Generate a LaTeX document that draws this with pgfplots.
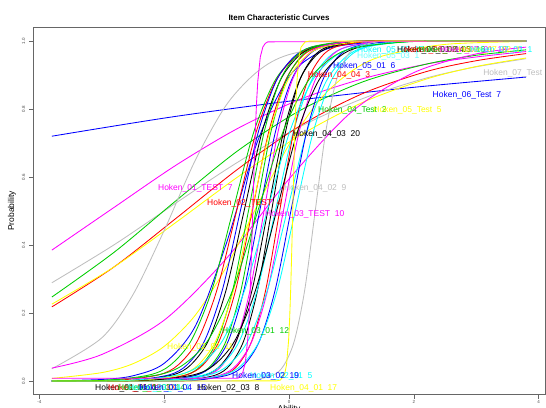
\documentclass[border=0pt]{standalone}
\usepackage{pgfplots}
\pgfplotsset{compat=1.18}
\usepackage{pgfplotstable}
\usepackage{fontspec}
\setmainfont{Liberation Sans}
\definecolor{Rgreen}{RGB}{0,205,0}
\definecolor{Rgray}{RGB}{190,190,190}
\definecolor{Rcyan}{RGB}{0,255,255}
\definecolor{Rmag}{RGB}{255,0,255}
\definecolor{Ryel}{RGB}{255,255,0}
\definecolor{Rred}{RGB}{255,0,0}
\definecolor{Rblue}{RGB}{0,0,255}
\newcommand\lab{\fontsize{8.5}{9}\selectfont}
\pgfplotstableread{
P S1 S2 S3 S4 S5 S6 S7 S8 S9 S10 S11 S12 S13 S14 S15 S16 S17 S20 S21 S22 S23 S24
0 -3.8 -3.8 -3.8 -3.8 -3.8 -3.8 -3.8 -3.8 -3.8 -3.8 -3.8 -3.8 -3.8 -3.8 -3.8 -3.8 -3.8 -3.8 -3.8 -3.8 -3.8 -3.8
0.0003 -3.567 -3.34 -3.066 -3.006 -2.65 -2.695 -2.435 -2.47 -2.178 -2.34 -2.058 -2.506 -1.928 -2.09 -2.53 -1.97 -2.186 -0.913 -2.886 -2.867 -3.207 -3.7
0.0025 -2.9 -2.715 -2.494 -2.434 -2.15 -2.169 -1.959 -1.97 -1.733 -1.84 -1.613 -1.934 -1.483 -1.59 -1.905 -1.47 -1.614 -0.58 -2.314 -2.2 -2.493 -2.9
0.018 -2.233 -2.09 -1.923 -1.863 -1.65 -1.643 -1.482 -1.47 -1.289 -1.34 -1.169 -1.363 -1.039 -1.09 -1.28 -0.97 -1.043 -0.247 -1.743 -1.533 -1.779 -2.1
0.047 -1.9 -1.778 -1.637 -1.577 -1.4 -1.379 -1.244 -1.22 -1.067 -1.09 -0.947 -1.077 -0.817 -0.84 -0.968 -0.72 -0.757 -0.08 -1.457 -1.2 -1.421 -1.7
0.119 -1.567 -1.465 -1.351 -1.291 -1.15 -1.116 -1.006 -0.97 -0.844 -0.84 -0.724 -0.791 -0.594 -0.59 -0.655 -0.47 -0.471 0.087 -1.171 -0.867 -1.064 -1.3
0.269 -1.233 -1.153 -1.066 -1.006 -0.9 -0.853 -0.768 -0.72 -0.622 -0.59 -0.502 -0.506 -0.372 -0.34 -0.343 -0.22 -0.186 0.253 -0.886 -0.533 -0.707 -0.9
0.5 -0.9 -0.84 -0.78 -0.72 -0.65 -0.59 -0.53 -0.47 -0.4 -0.34 -0.28 -0.22 -0.15 -0.09 -0.03 0.03 0.1 0.42 -0.6 -0.2 -0.35 -0.5
0.731 -0.567 -0.528 -0.494 -0.434 -0.4 -0.327 -0.292 -0.22 -0.178 -0.09 -0.058 0.066 0.072 0.16 0.283 0.28 0.386 0.587 -0.314 0.133 0.007 -0.1
0.881 -0.233 -0.215 -0.209 -0.149 -0.15 -0.064 -0.054 0.03 0.044 0.16 0.164 0.351 0.294 0.41 0.595 0.53 0.671 0.753 -0.029 0.467 0.364 0.3
0.953 0.1 0.098 0.077 0.137 0.1 0.199 0.184 0.28 0.267 0.41 0.387 0.637 0.517 0.66 0.908 0.78 0.957 0.92 0.257 0.8 0.721 0.7
0.982 0.433 0.41 0.363 0.423 0.35 0.463 0.422 0.53 0.489 0.66 0.609 0.923 0.739 0.91 1.22 1.03 1.243 1.087 0.543 1.133 1.079 1.1
0.9975 1.1 1.035 0.934 0.994 0.85 0.989 0.899 1.03 0.933 1.16 1.053 1.494 1.183 1.41 1.845 1.53 1.814 1.42 1.114 1.8 1.793 1.9
0.9997 1.767 1.66 1.506 1.566 1.35 1.515 1.375 1.53 1.378 1.66 1.498 2.066 1.628 1.91 2.47 2.03 2.386 1.753 1.686 2.467 2.507 2.7
1 3.8 3.8 3.8 3.8 3.8 3.8 3.8 3.8 3.8 3.8 3.8 3.8 3.8 3.8 3.8 3.8 3.8 3.8 3.8 3.8 3.8 3.8
}\steep
\begin{document}
\begin{tikzpicture}[x=1bp,y=1bp]
\useasboundingbox (0,0) rectangle (546,407);
\begin{axis}[at={(32.9bp,12.4bp)}, anchor=south west, scale only axis,
  width=512.2bp, height=367.2bp,
  xmin=-4.104, xmax=4.104, ymin=-0.04, ymax=1.04,
  clip mode=individual,
  xtick={-4,-2,0,2,4}, xticklabels={-4,-2,0,2,4},
  ytick={0,0.2,0.4,0.6,0.8,1}, yticklabels={0.0,0.2,0.4,0.6,0.8,1.0},
  tick pos=left, tick align=outside, major tick length=4bp,
  axis line style={black!60, line width=0.6bp},
  tick style={black!60, line width=0.5bp},
  xticklabel style={font=\fontsize{4.5}{5}\selectfont, inner sep=1.5bp, text=black!70},
  yticklabel style={rotate=90, anchor=south, font=\fontsize{4.5}{5}\selectfont, inner sep=3.5bp, text=black!70},
  every axis plot/.append style={line width=0.85bp},
]
% low-slope items
\addplot[smooth, Rblue] coordinates {(-3.8,0.72) (-1.9,0.776) (0,0.823) (1.9,0.862) (3.8,0.894)};
\addplot[smooth, Rmag] coordinates {(-3.8,0.385) (-2.8,0.511) (-1.8,0.636) (-0.8,0.745) (0.2,0.830) (1.2,0.890) (2.2,0.932) (3.0,0.953) (3.8,0.969)};
\addplot[smooth, Rgray] coordinates {(-3.8,0.289) (-2.8,0.401) (-1.8,0.525) (-0.8,0.646) (0.2,0.750) (1.2,0.832) (2.2,0.891) (3.0,0.924) (3.8,0.948)};
\addplot[smooth, Rgreen] coordinates {(-3.8,0.247) (-2.8,0.379) (-1.8,0.532) (-0.8,0.680) (0.2,0.798) (1.2,0.881) (2.2,0.932) (3.0,0.958) (3.8,0.974)};
\addplot[smooth, Rred] coordinates {(-3.8,0.218) (-2.8,0.336) (-1.8,0.480) (-0.8,0.626) (0.2,0.753) (1.2,0.847) (2.2,0.910) (3.0,0.942) (3.8,0.963)};
\addplot[smooth, Ryel] coordinates {(-3.8,0.226) (-2.8,0.336) (-1.8,0.468) (-0.8,0.603) (0.2,0.725) (1.2,0.821) (2.2,0.888) (3.0,0.925) (3.8,0.950)};
\addplot[smooth, Rgray] coordinates {(-3.8,0.036) (-3.0,0.127) (-2.5,0.254) (-2.0,0.443) (-1.5,0.650) (-1.0,0.813) (-0.5,0.911) (0,0.960) (1.0,0.992) (2.0,0.9986) (3.8,1.0)};
\addplot[smooth, Rmag] coordinates {(-3.8,0.038) (-3.0,0.078) (-2.0,0.179) (-1.0,0.361) (0,0.594) (1.0,0.791) (2.0,0.907) (3.0,0.962) (3.8,0.982)};
\addplot[smooth, Ryel] coordinates {(-3.8,0.0076) (-3.0,0.0247) (-2.5,0.0509) (-2.0,0.102) (-1.5,0.194) (-1.0,0.337) (-0.5,0.519) (0,0.695) (0.5,0.829) (1.0,0.911) (1.5,0.956) (2.5,0.990) (3.8,0.9985)};
\addplot[smooth, Rblue] coordinates {(-3.8,0.0006) (-3.0,0.0045) (-2.5,0.0154) (-2.0,0.052) (-1.5,0.162) (-1.0,0.407) (-0.5,0.707) (0,0.895) (0.5,0.968) (1.0,0.9906) (2.0,0.9993) (3.8,1.0)};
% steep items
\addplot[smooth, Rgreen] table[x=S1,y=P]{\steep};
\addplot[smooth, Rred] table[x=S2,y=P]{\steep};
\addplot[smooth, Rblue] table[x=S3,y=P]{\steep};
\addplot[smooth, black] table[x=S4,y=P]{\steep};
\addplot[smooth, Rgreen] table[x=S5,y=P]{\steep};
\addplot[smooth, Rred] table[x=S6,y=P]{\steep};
\addplot[smooth, Rgreen] table[x=S7,y=P]{\steep};
\addplot[smooth, Rblue] table[x=S8,y=P]{\steep};
\addplot[smooth, Rmag] table[x=S9,y=P]{\steep};
\addplot[smooth, black] table[x=S10,y=P]{\steep};
\addplot[smooth, black] table[x=S11,y=P]{\steep};
\addplot[smooth, Rcyan] table[x=S12,y=P]{\steep};
\addplot[smooth, Rred] table[x=S13,y=P]{\steep};
\addplot[smooth, Rmag] table[x=S14,y=P]{\steep};
\addplot[smooth, Rcyan] table[x=S15,y=P]{\steep};
\addplot[smooth, Rblue] table[x=S16,y=P]{\steep};
\addplot[smooth, Rcyan] table[x=S17,y=P]{\steep};
\addplot[smooth, Rgray] table[x=S20,y=P]{\steep};
\addplot[smooth, Ryel] table[x=S21,y=P]{\steep};
\addplot[smooth, black] table[x=S22,y=P]{\steep};
\addplot[smooth, Rcyan] table[x=S23,y=P]{\steep};
\addplot[smooth, Rgreen] table[x=S24,y=P]{\steep};
% near-step items
\addplot[sharp plot, Rmag] coordinates {(-3.8,0.008) (-0.82,0.008) (-0.78,0.0147) (-0.74,0.026) (-0.70,0.054) (-0.66,0.126) (-0.64,0.188) (-0.62,0.275) (-0.60,0.383) (-0.58,0.504) (-0.56,0.625) (-0.54,0.733) (-0.52,0.820) (-0.50,0.882) (-0.46,0.953) (-0.42,0.982) (-0.38,0.993) (-0.34,0.9975) (3.8,1.0)};
\addplot[sharp plot, Ryel] coordinates {(-3.8,0.0) (-0.207,0.0003) (-0.14,0.0025) (-0.073,0.018) (-0.04,0.047) (-0.007,0.119) (0.01,0.182) (0.027,0.269) (0.043,0.378) (0.06,0.5) (0.077,0.622) (0.093,0.731) (0.11,0.818) (0.127,0.881) (0.16,0.953) (0.193,0.982) (0.26,0.9975) (0.327,0.9997) (3.8,1.0)};
% item labels
\begin{scope}[every node/.style={font=\lab, anchor=west, inner sep=0pt}]
\node[text=Rblue] at (axis cs:2.30,0.841) {Hoken\_06\_Test\ \ 7};
\node[text=Rgray] at (axis cs:3.11,0.906) {Hoken\_07\_Test\ \ 8};
\node[text=Rblue] at (axis cs:0.705,0.926) {Hoken\_05\_01\ \ 6};
\node[text=Rred] at (axis cs:0.30,0.90) {Hoken\_04\_04\ \ 3};
\node[text=Rgreen] at (axis cs:0.465,0.797) {Hoken\_04\_Test\ \ 2};
\node[text=Ryel] at (axis cs:1.35,0.797) {Hoken\_05\_Test\ \ 5};
\node[text=black] at (axis cs:0.064,0.726) {Hoken\_04\_03\ \ 20};
\node[text=Rmag] at (axis cs:-2.10,0.568) {Hoken\_01\_TEST\ \ 7};
\node[text=Rgray] at (axis cs:-0.08,0.568) {Hoken\_04\_02\ \ 9};
\node[text=Rred] at (axis cs:-1.314,0.524) {Hoken\_02\_TEST\ \ 4};
\node[text=Rmag] at (axis cs:-0.385,0.491) {Hoken\_03\_TEST\ \ 10};
\node[text=Rgreen] at (axis cs:-1.074,0.147) {Hoken\_03\_01\ \ 12};
\node[text=Ryel] at (axis cs:-1.955,0.10) {Hoken\_02\_02\ \ 11};
\node[text=Rcyan] at (axis cs:-0.625,0.015) {Hoken\_02\_01\ \ 5};
\node[text=Rblue] at (axis cs:-0.913,0.015) {Hoken\_03\_02\ \ 19};
\node[text=black] at (axis cs:-3.109,-0.021) {Hoken\_01\_01\ \ 1};
\node[text=Rred] at (axis cs:-2.90,-0.021) {Hoken\_01\_02\ \ 13};
\node[text=Rgreen] at (axis cs:-2.74,-0.021) {Hoken\_01\_03\ \ 14};
\node[text=Rcyan] at (axis cs:-2.58,-0.021) {Hoken\_03\_04\ \ 1};
\node[text=Rblue] at (axis cs:-2.40,-0.021) {Hoken\_01\_04\ \ 15};
\node[text=black] at (axis cs:-1.474,-0.021) {Hoken\_02\_03\ \ 8};
\node[text=Ryel] at (axis cs:-0.304,-0.021) {Hoken\_04\_01\ \ 17};
\node[text=Rcyan!60] at (axis cs:1.09,0.955) {Hoken\_05\_03\ \ 1};
\node[text=Rcyan] at (axis cs:1.09,0.974) {Hoken\_05\_02\ \ 13};
\node[text=black] at (axis cs:1.73,0.974) {Hoken\_06\_01\ \ 14};
\node[text=Rred] at (axis cs:1.84,0.974) {Hoken\_06\_02\ \ 15};
\node[text=Rgreen] at (axis cs:2.07,0.974) {Hoken\_06\_03\ \ 16};
\node[text=Rmag] at (axis cs:2.42,0.974) {Hoken\_07\_01\ \ 18};
\node[text=Ryel] at (axis cs:2.71,0.974) {Hoken\_07\_02\ \ 1};
\node[text=Rcyan] at (axis cs:2.90,0.974) {Hoken\_07\_03\ \ 1};
\end{scope}
\end{axis}
\node[font=\bfseries\fontsize{8}{9}\selectfont] at (279,389) {Item Characteristic Curves};
\node[rotate=90, font=\lab] at (12,196) {Probability};
\node[font=\lab, anchor=north] at (289,5) {Ability};
\end{tikzpicture}
\end{document}
